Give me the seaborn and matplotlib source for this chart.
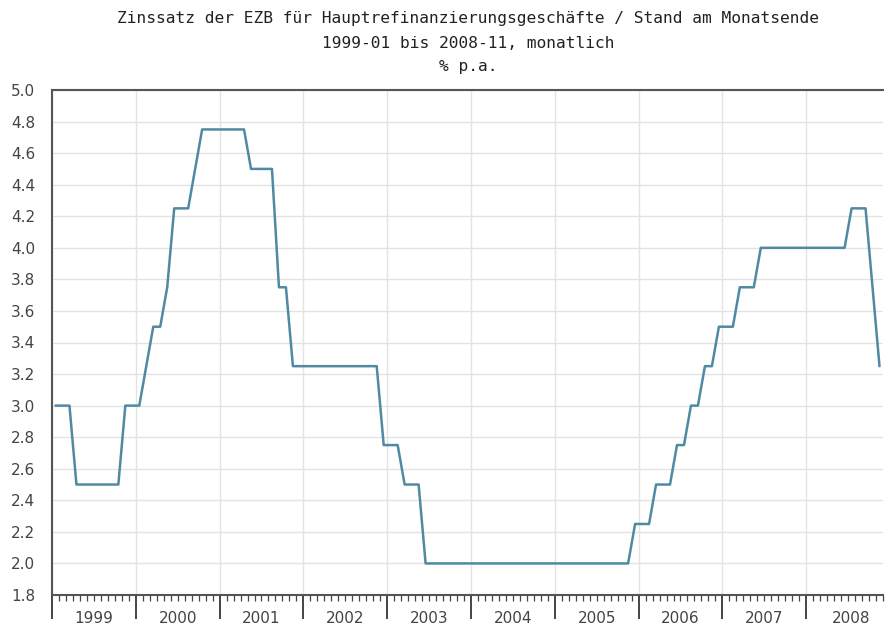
import numpy as np
import pandas as pd
import seaborn as sns
import matplotlib.pyplot as plt

# Monatsendstände 1999-01 bis 2008-11
jahre = ["1999", "2000", "2001", "2002", "2003", "2004", "2005", "2006", "2007", "2008"]
zins_1999 = [3.0, 3.0, 3.0, 2.5, 2.5, 2.5, 2.5, 2.5, 2.5, 2.5, 3.0, 3.0]
zins_2000 = [3.0, 3.25, 3.5, 3.5, 3.75, 4.25, 4.25, 4.25, 4.5, 4.75, 4.75, 4.75]
zins_2001 = [4.75, 4.75, 4.75, 4.75, 4.5, 4.5, 4.5, 4.5, 3.75, 3.75, 3.25, 3.25]
zins_2002 = [3.25, 3.25, 3.25, 3.25, 3.25, 3.25, 3.25, 3.25, 3.25, 3.25, 3.25, 2.75]
zins_2003 = [2.75, 2.75, 2.5, 2.5, 2.5, 2.0, 2.0, 2.0, 2.0, 2.0, 2.0, 2.0]
zins_2004 = [2.0, 2.0, 2.0, 2.0, 2.0, 2.0, 2.0, 2.0, 2.0, 2.0, 2.0, 2.0]
zins_2005 = [2.0, 2.0, 2.0, 2.0, 2.0, 2.0, 2.0, 2.0, 2.0, 2.0, 2.0, 2.25]
zins_2006 = [2.25, 2.25, 2.5, 2.5, 2.5, 2.75, 2.75, 3.0, 3.0, 3.25, 3.25, 3.5]
zins_2007 = [3.5, 3.5, 3.75, 3.75, 3.75, 4.0, 4.0, 4.0, 4.0, 4.0, 4.0, 4.0]
zins_2008 = [4.0, 4.0, 4.0, 4.0, 4.0, 4.0, 4.25, 4.25, 4.25, 3.75, 3.25]

werte = (zins_1999 + zins_2000 + zins_2001 + zins_2002 + zins_2003 +
         zins_2004 + zins_2005 + zins_2006 + zins_2007 + zins_2008)
df = pd.DataFrame({"monat": np.arange(len(werte)), "zins": werte})

sns.set_style("white")
fig = plt.figure(figsize=(8.85, 6.27), dpi=100)
ax = fig.add_axes([52 / 885, 1 - 595 / 627, 831 / 885, 505 / 627])

sns.lineplot(data=df, x="monat", y="zins", ax=ax, color="#4f8aa3", linewidth=1.8)

# Achsen
ax.set_xlim(-0.5, 118.4)
ax.set_ylim(1.8, 5.0)
yticks = np.round(np.arange(1.8, 5.01, 0.2), 1)
ax.set_yticks(yticks)
ax.set_yticklabels([f"{v:.1f}" for v in yticks], fontsize=11, color="#444444")
ax.tick_params(axis="y", length=0, pad=12)

grenzen = np.arange(len(jahre)) * 12 - 0.5
ax.set_xticks(grenzen)
ax.set_xticklabels([])
ax.set_xticks(np.arange(len(werte) + 1) - 0.5, minor=True)
ax.tick_params(axis="x", which="both", bottom=True, direction="out")
ax.tick_params(axis="x", which="major", length=17, width=1.4, color="#444444")
ax.tick_params(axis="x", which="minor", length=4, width=0.9, color="#444444")

for i, jahr in enumerate(jahre):
    ax.text(i * 12 + 5.5 + (0.5 if jahr == "2008" else 0), -0.047, jahr,
            transform=ax.get_xaxis_transform(), ha="center", va="center",
            fontsize=11, color="#444444")

ax.grid(True, which="major", color="#e3e3e3", linewidth=1)
ax.set_axisbelow(True)
ax.set_xlabel("")
ax.set_ylabel("")

for s in ["left", "bottom", "top"]:
    ax.spines[s].set_color("#555555")
    ax.spines[s].set_linewidth(1.5)
ax.spines["right"].set_visible(False)

# Titel
xm = 468 / 885
titel_font = dict(ha="center", va="center", family="DejaVu Sans Mono",
                  fontsize=11.7, color="#222222")
fig.text(xm, 1 - 18 / 627, "Zinssatz der EZB für Hauptrefinanzierungsgeschäfte / Stand am Monatsende", **titel_font)
fig.text(xm, 1 - 43 / 627, "1999-01 bis 2008-11, monatlich", **titel_font)
fig.text(xm, 1 - 67 / 627, "% p.a.", **titel_font)

fig.savefig("out.png", dpi=100)
